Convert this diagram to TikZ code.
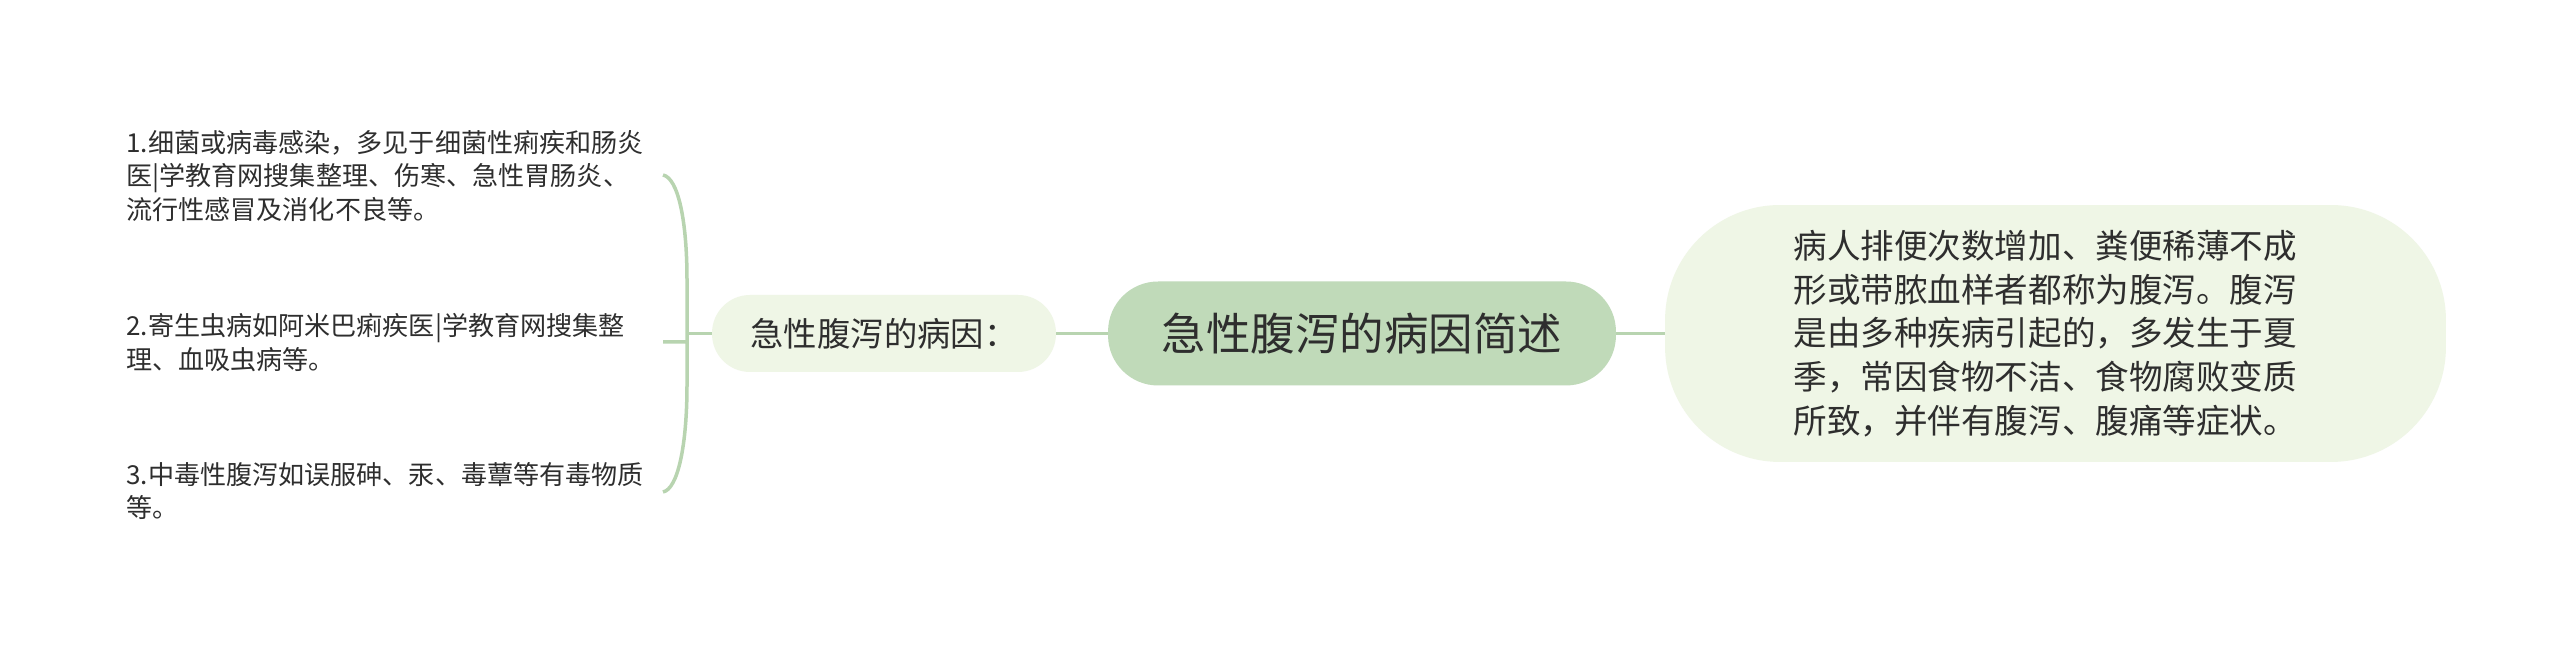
\documentclass[tikz,border=0pt]{standalone}
\usepackage{fontspec}
\newfontfamily\cjk{Noto Sans CJK SC}
\definecolor{rootgreen}{HTML}{C0DAB9}
\definecolor{palegreen}{HTML}{EFF6E6}
\definecolor{linegreen}{HTML}{B8D4B0}
\definecolor{ink}{HTML}{2E2E2E}
\tikzset{
    link/.style={draw=linegreen, line width=0.07cm},
    rootbox/.style={fill=rootgreen, rounded corners=1cm, minimum width=10.16cm, minimum height=2.08cm, text=ink, font=\cjk\fontsize{25.3pt}{30pt}\selectfont},
    causebox/.style={fill=palegreen, rounded corners=0.76cm, minimum width=6.88cm, minimum height=1.54cm, text=ink, font=\cjk\fontsize{19pt}{24pt}\selectfont},
    descbox/.style={fill=palegreen, rounded corners=2.3cm, minimum width=15.62cm, minimum height=5.14cm, text width=10.48cm, text=ink, align=left, font=\cjk\fontsize{19.1pt}{24.9pt}\selectfont},
    item/.style={anchor=west, inner sep=0pt, align=left, text=ink, font=\cjk\fontsize{14.85pt}{19pt}\selectfont}
}
\begin{document}
\begin{tikzpicture}[x=0.02cm, y=0.02cm]
        \fill[white] (0,0) rectangle (2560,651);
        \foreach \y/\txt [count=\i] in {475/{1.细菌或病毒感染，多见于细菌性痢疾和肠炎\\医|学教育网搜集整理、伤寒、急性胃肠炎、\\流行性感冒及消化不良等。}, 308.5/{2.寄生虫病如阿米巴痢疾医|学教育网搜集整\\理、血吸虫病等。}, 160/{3.中毒性腹泻如误服砷、汞、毒蕈等有毒物质\\等。}} {
            \node[item] (t\i) at (126,\y) {\txt};
        }
        \node[causebox] (cause) at (884,317.5) {急性腹泻的病因：};
        \node[rootbox] (root) at (1362,317.5) {急性腹泻的病因简述};
        \node[descbox] (desc) at (2055.5,317.5) {病人排便次数增加、粪便稀薄不成\\形或带脓血样者都称为腹泻。腹泻\\是由多种疾病引起的，多发生于夏\\季，常因食物不洁、食物腐败变质\\所致，并伴有腹泻、腹痛等症状。};
        \coordinate (hub) at (687,317.5);
        \draw[link] (663,476) .. controls (678,473) and (687,431) .. (687,371) -- (687,266) .. controls (687,206) and (678,162) .. (663,159) (663,309) -- (687,309);
        \draw[link] (hub) -- (cause);
        \draw[link] (cause) -- (root);
        \draw[link] (root) -- (desc);
    \end{tikzpicture}
\end{document}
